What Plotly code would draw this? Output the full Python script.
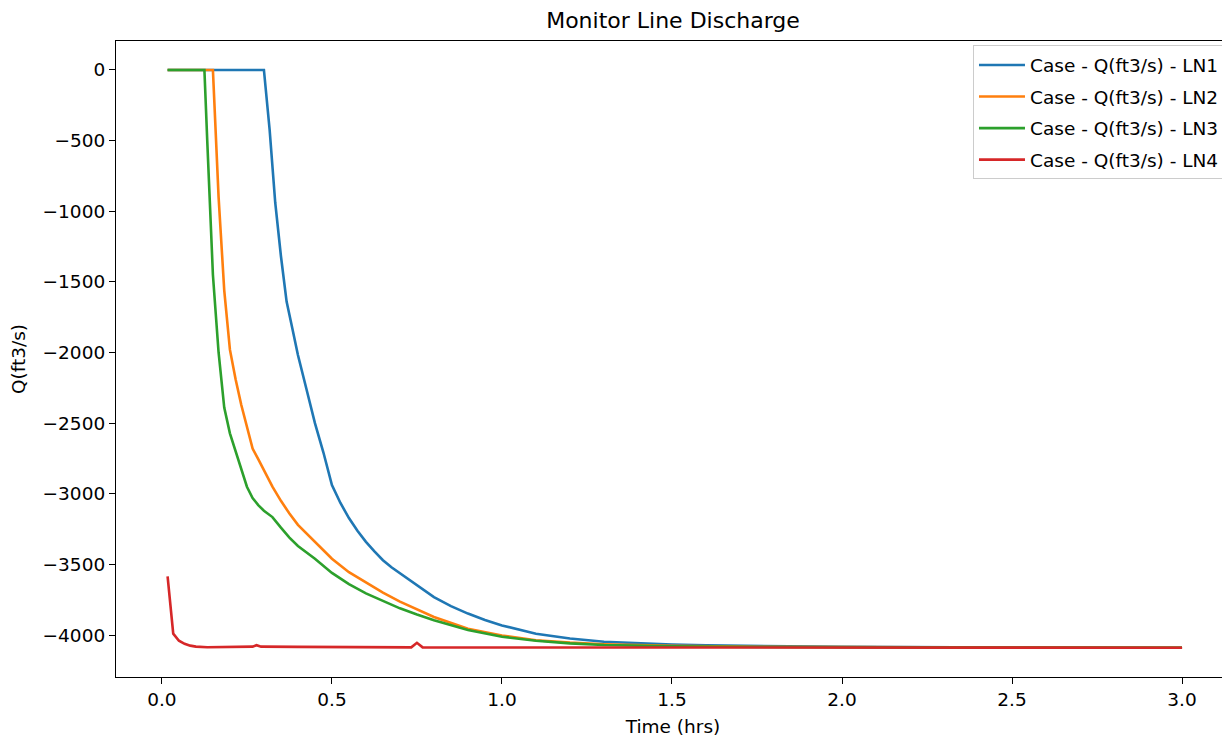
import plotly.graph_objects as go

# ---- data ----
t_ln1 = [0.0167, 0.3, 0.3167, 0.3333, 0.35, 0.3667, 0.3833, 0.4, 0.425, 0.45, 0.475, 0.5,
         0.525, 0.55, 0.575, 0.6, 0.625, 0.65, 0.675, 0.7, 0.75, 0.8, 0.85, 0.9, 0.95,
         1.0, 1.1, 1.2, 1.3, 1.4, 1.5, 1.6, 1.8, 2.0, 2.5, 3.0]
q_ln1 = [0, 0, -420, -940, -1317, -1640, -1827, -2018, -2258, -2500, -2708, -2938,
         -3065, -3172, -3262, -3340, -3408, -3470, -3520, -3563, -3650, -3732, -3795,
         -3848, -3893, -3932, -3991, -4025, -4048, -4060, -4068, -4073, -4080, -4084,
         -4088, -4090]

t_ln2 = [0.0167, 0.15, 0.1667, 0.1833, 0.2, 0.2167, 0.2333, 0.25, 0.2667, 0.2833, 0.3,
         0.325, 0.35, 0.375, 0.4, 0.45, 0.5, 0.55, 0.6, 0.65, 0.7, 0.75, 0.8, 0.9, 1.0,
         1.1, 1.2, 1.3, 1.5, 1.75, 2.0, 2.5, 3.0]
q_ln2 = [0, 0, -900, -1560, -1980, -2190, -2370, -2530, -2680, -2755, -2830,
         -2950, -3050, -3140, -3220, -3340, -3460, -3555, -3630, -3700, -3764, -3820,
         -3872, -3955, -4003, -4037, -4054, -4065, -4077, -4083, -4086, -4089, -4090]

t_ln3 = [0.0167, 0.1167, 0.125, 0.1333, 0.15, 0.1667, 0.1833, 0.2, 0.2167, 0.2333, 0.25,
         0.2667, 0.2833, 0.3, 0.325, 0.35, 0.375, 0.4, 0.45, 0.5, 0.55, 0.6, 0.65, 0.7,
         0.75, 0.8, 0.9, 1.0, 1.1, 1.2, 1.3, 1.5, 1.75, 2.0, 2.5, 3.0]
q_ln3 = [0, 0, 0, -500, -1450, -2000, -2390, -2572, -2700, -2830, -2950,
         -3030, -3080, -3120, -3165, -3240, -3310, -3370, -3460, -3560, -3640, -3705,
         -3760, -3811, -3855, -3895, -3965, -4012, -4040, -4059, -4070, -4080, -4085,
         -4087, -4089, -4090]

t_ln4 = [0.0167, 0.0333, 0.05, 0.0667, 0.0833, 0.1, 0.1333, 0.2, 0.2667, 0.2783, 0.2917,
         0.4, 0.5, 0.6, 0.7, 0.7333, 0.75, 0.7667, 1.0, 1.5, 2.0, 2.0167, 2.0333, 2.5, 3.0]
q_ln4 = [-3585, -3990, -4040, -4062, -4075, -4082, -4086, -4086, -4082, -4072, -4082,
         -4084, -4085, -4086, -4087, -4087, -4055, -4087, -4088, -4088, -4088, -4084,
         -4088, -4089, -4090]

series_names = ["Case - Q(ft3/s) - LN1", "Case - Q(ft3/s) - LN2",
                "Case - Q(ft3/s) - LN3", "Case - Q(ft3/s) - LN4"]
colors = ["#1f77b4", "#ff7f0e", "#2ca02c", "#d62728"]

y_tick_vals = [0, -500, -1000, -1500, -2000, -2500, -3000, -3500, -4000]
y_tick_text = ["0", "\u2212500", "\u22121000", "\u22121500", "\u22122000",
               "\u22122500", "\u22123000", "\u22123500", "\u22124000"]
x_tick_vals = [0.0, 0.5, 1.0, 1.5, 2.0, 2.5, 3.0]
x_tick_text = ["0.0", "0.5", "1.0", "1.5", "2.0", "2.5", "3.0"]

FONT = "DejaVu Sans"
FS = 18.5

fig = go.Figure()
for i, (t, q, name, c) in enumerate(zip([t_ln1, t_ln2, t_ln3, t_ln4],
                                        [q_ln1, q_ln2, q_ln3, q_ln4],
                                        series_names, colors)):
    fig.add_trace(go.Scatter(x=t, y=q, mode="lines", name=name, legendgroup=f"g{i}",
                             line=dict(color=c, width=2.6)))

# page body has an 8px margin: figure is drawn 8px right/down of the window corner
fig.update_layout(
    width=1222, height=733,
    margin=dict(l=108, r=0, t=33, b=64),
    paper_bgcolor="white", plot_bgcolor="white",
    font=dict(family=FONT, size=FS, color="black"),
    title=dict(text="Monitor Line Discharge", x=0.5, xref="paper", xanchor="center",
               y=1 - 12.5 / 733, yanchor="middle", yref="container",
               font=dict(family=FONT, size=22, color="black")),
    legend=dict(x=0.9955, y=0.993, xanchor="right", yanchor="top",
                bgcolor="white", bordercolor="#cccccc", borderwidth=1,
                itemwidth=46, tracegroupgap=4.5,
                font=dict(family=FONT, size=FS, color="black")),
    showlegend=True,
)
fig.update_xaxes(range=[-0.135, 3.141], tickvals=x_tick_vals, ticktext=x_tick_text,
                 showgrid=False, zeroline=False, showline=True, linecolor="black",
                 linewidth=1.2, mirror=True, ticks="outside", ticklen=6, tickwidth=1.2,
                 tickcolor="black",
                 title=dict(text="Time (hrs)", standoff=10, font=dict(size=FS)))
fig.update_yaxes(range=[-4297, 205], tickvals=y_tick_vals, ticktext=y_tick_text,
                 showgrid=False, zeroline=False, showline=True, linecolor="black",
                 linewidth=1.2, mirror=False, ticks="outside", ticklen=6, tickwidth=1.2,
                 tickcolor="black",
                 title=dict(text="Q(ft3/s)", standoff=12, font=dict(size=FS)))

fig.write_html("out.html")
